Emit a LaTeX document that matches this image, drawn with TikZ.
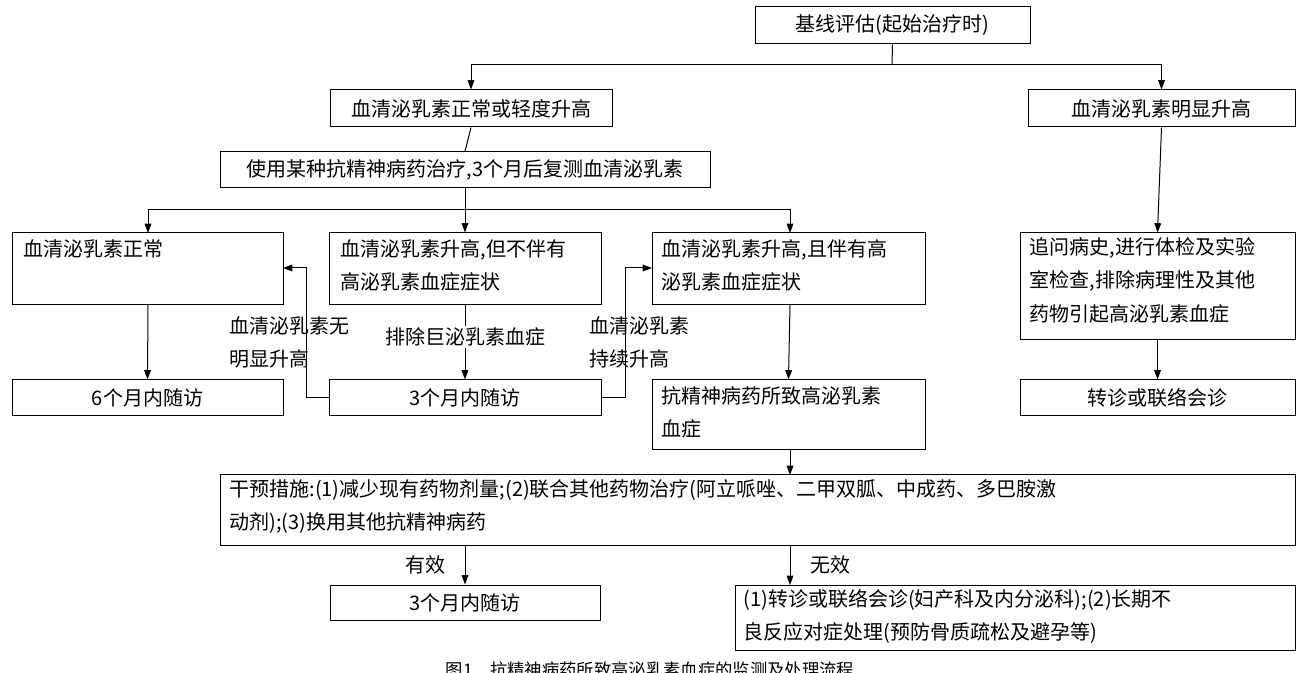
\documentclass[tikz,border=0pt]{standalone}
\usepackage{fontspec}
\setmainfont{Noto Sans CJK SC}
\usetikzlibrary{arrows.meta}
\tikzset{every picture/.style={line width=0.75pt}}
\tikzset{
  box/.style={draw,inner sep=0pt,font=\fontsize{15}{25}\selectfont},
  lbl/.style={inner sep=0.75pt,font=\fontsize{15}{25}\selectfont,align=left},
  arr/.style={-{Triangle[length=7pt,width=5pt]}}
}
\newcommand{\bx}[5]{% name, x1, y1, x2, y2
  \node[box,minimum width=#4*0.75pt-#2*0.75pt,minimum height=#5*0.75pt-#3*0.75pt] (#1) at ({(#2+#4)/2},{(#3+#5)/2}) {};}

\begin{document}
\begin{tikzpicture}[x=0.75pt,y=0.75pt,yscale=-1,xscale=1]
\useasboundingbox (0,0) rectangle (1300,673);

%boxes
\bx{base}{755}{7}{1030}{44}
\bx{mild}{330}{90}{612}{127}
\bx{high}{1028}{90}{1295}{127}
\bx{use}{220}{152}{710}{188}
\bx{norm}{12}{233}{283}{305}
\bx{nosym}{329}{233}{601}{305}
\bx{sym}{652}{233}{925}{305}
\bx{hist}{1020}{233}{1295}{340}
\bx{six}{12}{380}{283}{416}
\bx{three}{329}{380}{601}{416}
\bx{drug}{652}{380}{925}{450}
\bx{refer}{1020}{380}{1295}{416}
\bx{act}{220}{475}{1295}{545}
\bx{three2}{330}{585}{600}{620}
\bx{long}{735}{585}{1295}{650}

%texts
\node[lbl] (tbase) at (base) {基线评估(起始治疗时)};
\node[lbl] (tmild) at (mild) {血清泌乳素正常或轻度升高};
\node[lbl] (thigh) at (high) {血清泌乳素明显升高};
\node[lbl] (tuse) at (use) {使用某种抗精神病药治疗,3个月后复测血清泌乳素};
\node[lbl,anchor=north west] (tnorm) at (22,238) {血清泌乳素正常};
\node[lbl,anchor=north west] (tnosym) at (339,238) {血清泌乳素升高,但不伴有\\高泌乳素血症症状};
\node[lbl,anchor=north west] (tsym) at (660,238) {血清泌乳素升高,且伴有高\\泌乳素血症症状};
\node[lbl,anchor=north west] (thist) at (1028,236) {追问病史,进行体检及实验\\室检查,排除病理性及其他\\药物引起高泌乳素血症};
\node[lbl] (tsix) at (six) {6个月内随访};
\node[lbl] (tthree) at (three) {3个月内随访};
\node[lbl,anchor=north west] (tdrug) at (660,385) {抗精神病药所致高泌乳素\\血症};
\node[lbl] (trefer) at (refer) {转诊或联络会诊};
\node[lbl,anchor=north west] (tact) at (228,478) {干预措施:(1)减少现有药物剂量;(2)联合其他药物治疗(阿立哌唑、二甲双胍、中成药、多巴胺激\\动剂);(3)换用其他抗精神病药};
\node[lbl] (tthree2) at (three2) {3个月内随访};
\node[lbl,anchor=north west] (tlong) at (742,588) {(1)转诊或联络会诊(妇产科及内分泌科);(2)长期不\\良反应对症处理(预防骨质疏松及避孕等)};
\node[lbl,anchor=north west] (tnone) at (228,315) {血清泌乳素无\\明显升高};
\node[lbl,anchor=north west] (tup) at (588,315) {血清泌乳素\\持续升高};
\node[lbl,fill=white] (tmacro) at (465,337) {排除巨泌乳素血症};
\node[lbl] (tok) at (425,565) {有效};
\node[lbl] (tfail) at (830,565) {无效};
\node[lbl,font=\fontsize{13}{16}\selectfont] (cap) at (650,670) {图1\quad 抗精神病药所致高泌乳素血症的监测及处理流程};

%connectors
\coordinate (s1) at (892,65);
\draw (base.south) -- (s1);
\draw[arr] (s1) -| (mild.north);
\draw[arr] (s1) -| (high.north);
\draw (mild.south) -- (use.north);
\coordinate (s2) at (465,210);
\draw (use.south) -- (s2);
\draw[arr] (s2) -| (148,233);
\draw[arr] (s2) -- (nosym.north);
\draw[arr] (s2) -| (790,233);
\draw[arr] (high.south) -- (hist.north);
\draw[arr] (148,305) -- (six.north);
\draw (nosym.south) -- (tmacro.north);
\draw[arr] (tmacro.south) -- (three.north);
\draw[arr] (three.west) -- (306,398) |- (283,268);
\draw[arr] (three.east) -- (625,398) |- (652,268);
\draw[arr] (790,305) -- (drug.north);
\draw[arr] (hist.south) -- (refer.north);
\draw[arr] (790,450) -- (790,475);
\draw[arr] (465,545) -- (three2.north);
\draw[arr] (790,545) -- (790,585);
\end{tikzpicture}
\end{document}
